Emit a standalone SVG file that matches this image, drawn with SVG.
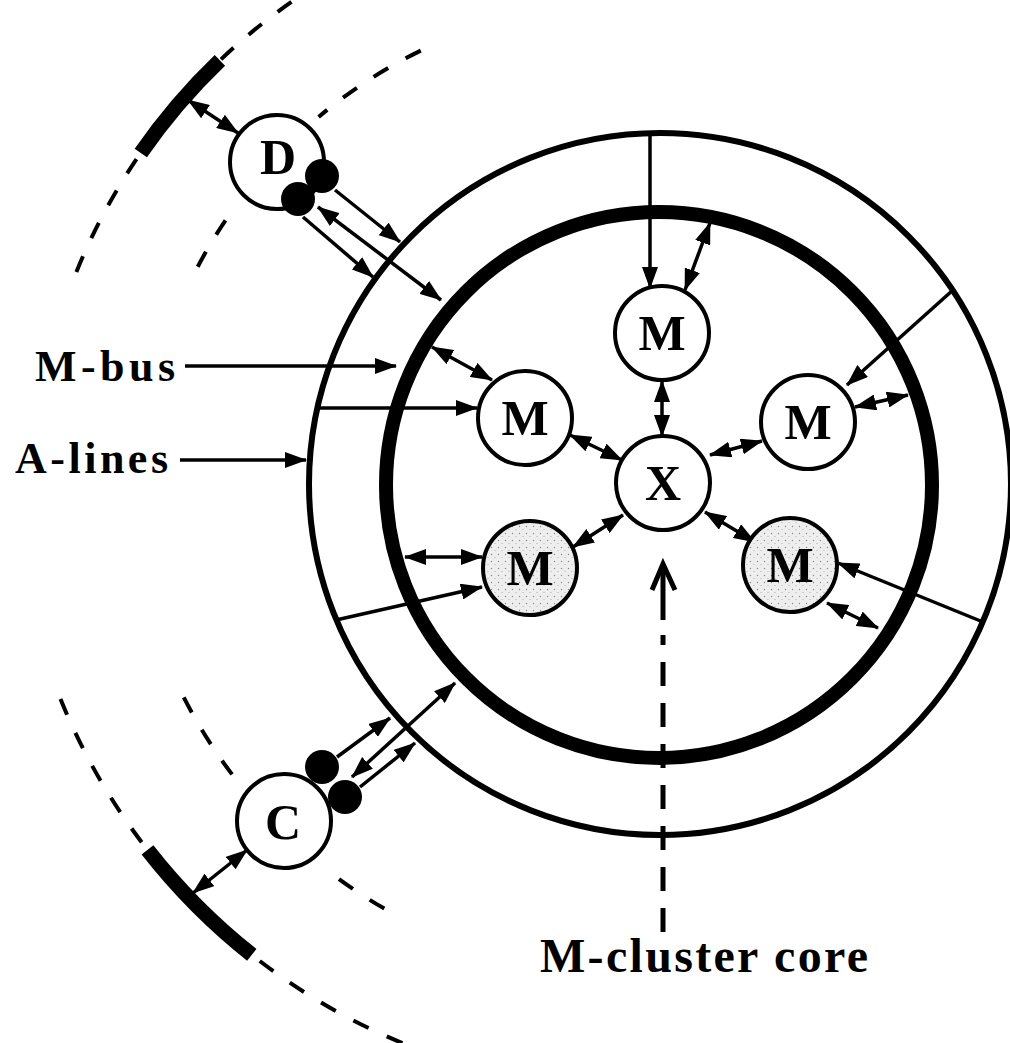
<svg xmlns="http://www.w3.org/2000/svg" width="1010" height="1043" viewBox="0 0 1010 1043">
<style>
.lbl{font-family:"Liberation Serif","Times New Roman",serif;font-weight:bold;fill:#000}
.node{fill:#fff;stroke:#000;stroke-width:4}
.shade{fill:url(#stip);stroke:#000;stroke-width:4}
.nt{font-family:"Liberation Serif","Times New Roman",serif;font-weight:bold;font-size:50px;text-anchor:middle;fill:#000}
.c{stroke:#000;stroke-width:3.5;fill:none}
.a{marker-end:url(#ah)}
.b{marker-start:url(#ah);marker-end:url(#ah)}
.dash{stroke:#000;stroke-width:4;fill:none;stroke-dasharray:17 20}
.thick{stroke:#000;stroke-width:15;fill:none}
</style>
<defs>
<marker id="ah" markerUnits="userSpaceOnUse" markerWidth="22" markerHeight="16" refX="21" refY="8" orient="auto-start-reverse">
<path d="M0,0 L22,8 L0,16 z" fill="#000"/>
</marker>
<pattern id="stip" width="7" height="7" patternUnits="userSpaceOnUse">
<rect width="7" height="7" fill="#eeeeee"/>
<circle cx="1.5" cy="1.5" r="0.7" fill="#888"/>
<circle cx="5" cy="4.5" r="0.5" fill="#999"/>
</pattern>
</defs>
<rect width="1010" height="1043" fill="#fff"/>

<g id="rings">
<circle cx="660" cy="484" r="351" fill="none" stroke="#000" stroke-width="6"/>
<circle cx="659" cy="485" r="273" fill="none" stroke="#000" stroke-width="14"/>
</g>

<g id="outer-arcs">
<path class="dash" d="M354.5,-36.8 A608,608 0 0 0 72.4,282.1"/>
<path class="thick" d="M219.9,60.4 A608,608 0 0 0 140.8,153"/>
<path class="dash" d="M420.8,50.6 A500,500 0 0 0 318.6,117"/>
<path class="dash" d="M225.5,220.4 A500,500 0 0 0 192.5,276.9"/>
<path class="dash" d="M60.5,699.1 A625,625 0 0 0 426.2,1052.3"/>
<path class="thick" d="M147.5,849.8 A625,625 0 0 0 251.8,954.8"/>
<path class="dash" d="M183.8,697.4 A512,512 0 0 0 239.3,783.7"/>
<path class="dash" d="M339,879.2 A512,512 0 0 0 387.9,910.6"/>
</g>

<g id="connectors">
<line class="c a" x1="185" y1="366" x2="396" y2="366"/>
<line class="c a" x1="180" y1="460" x2="306" y2="460"/>
<line class="c a" x1="650" y1="134" x2="650" y2="288"/>
<line class="c b" x1="685" y1="290" x2="710" y2="223"/>
<line class="c a" x1="953" y1="290" x2="847" y2="385"/>
<line class="c b" x1="855" y1="407" x2="908" y2="395"/>
<line class="c a" x1="983" y1="622" x2="838" y2="563"/>
<line class="c b" x1="827" y1="603" x2="878" y2="628"/>
<line class="c a" x1="317" y1="408" x2="477" y2="408"/>
<line class="c b" x1="432" y1="347" x2="492" y2="380"/>
<line class="c a" x1="336" y1="620" x2="482" y2="587"/>
<line class="c b" x1="405" y1="557" x2="482" y2="557"/>
<line class="c b" x1="662" y1="381" x2="662" y2="436"/>
<line class="c b" x1="570" y1="435" x2="622" y2="460"/>
<line class="c b" x1="710" y1="455" x2="762" y2="441"/>
<line class="c b" x1="573" y1="547" x2="623" y2="515"/>
<line class="c b" x1="705" y1="512" x2="755" y2="542"/>
<line class="c a" x1="335" y1="190" x2="400" y2="242"/>
<line class="c b" x1="318" y1="207" x2="441" y2="300"/>
<line class="c a" x1="303" y1="217" x2="373" y2="277"/>
<line class="c b" x1="188" y1="100" x2="238" y2="133"/>
<line class="c a" x1="337" y1="757" x2="390" y2="718"/>
<line class="c b" x1="352" y1="777" x2="455" y2="683"/>
<line class="c a" x1="360" y1="787" x2="415" y2="743"/>
<line class="c b" x1="247" y1="850" x2="193" y2="893"/>
<line x1="663" y1="932" x2="663" y2="635" stroke="#000" stroke-width="5" stroke-dasharray="24 17"/>
<line x1="663" y1="620" x2="663" y2="566" stroke="#000" stroke-width="5"/>
<path d="M652,590 L663,564 L675,590" fill="none" stroke="#000" stroke-width="5"/>
</g>

<g id="node-D">
<circle class="node" cx="277" cy="162" r="47"/>
<text class="nt" x="278" y="174">D</text>
<circle cx="322" cy="176" r="17" fill="#000"/>
<circle cx="298" cy="199" r="17" fill="#000"/>
</g>
<g id="node-C">
<circle class="node" cx="284" cy="821" r="47"/>
<text class="nt" x="283" y="839">C</text>
<circle cx="322" cy="767" r="17" fill="#000"/>
<circle cx="345" cy="797" r="17" fill="#000"/>
</g>
<g id="node-X">
<circle class="node" cx="663" cy="483" r="47"/>
<text class="nt" x="663" y="500">X</text>
</g>
<g id="node-M-top">
<circle class="node" cx="662" cy="333" r="47"/>
<text class="nt" x="662" y="350">M</text>
</g>
<g id="node-M-left">
<circle class="node" cx="525" cy="418" r="47"/>
<text class="nt" x="525" y="435">M</text>
</g>
<g id="node-M-right">
<circle class="node" cx="808" cy="422" r="47"/>
<text class="nt" x="808" y="439">M</text>
</g>
<g id="node-M-shaded-left">
<circle class="shade" cx="530" cy="568" r="47"/>
<text class="nt" x="530" y="585">M</text>
</g>
<g id="node-M-shaded-right">
<circle class="shade" cx="790" cy="565" r="47"/>
<text class="nt" x="790" y="582">M</text>
</g>

<g id="labels">
<text class="lbl" x="35" y="381" font-size="44" textLength="140" lengthAdjust="spacing">M-bus</text>
<text class="lbl" x="15" y="473" font-size="44" textLength="153" lengthAdjust="spacing">A-lines</text>
<text class="lbl" x="540" y="972" font-size="48" textLength="328" lengthAdjust="spacing">M-cluster core</text>
</g>
</svg>
